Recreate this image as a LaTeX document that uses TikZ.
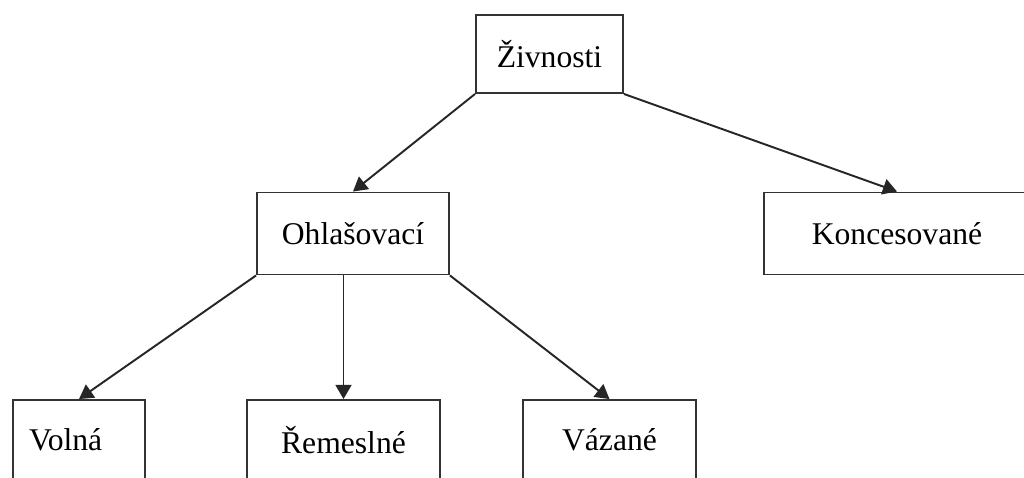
\documentclass[tikz,border=0pt]{standalone}
\usepackage{fontspec}
\setmainfont{Liberation Serif}
\usetikzlibrary{arrows.meta}
\tikzset{
  box/.style={draw=black!80, line width=1.1pt, fill=white, inner sep=0pt,
    font=\fontsize{18}{20}\selectfont},
  link/.style={draw=black!85, line width=1.1pt, -{Triangle[length=8pt,width=9pt]}}
}
\begin{document}
\begin{tikzpicture}[x=0.02cm, y=-0.02cm]
  \useasboundingbox (0,0) rectangle (1024,477);
  \clip (0,0) rectangle (1024,477);
  \fill[white] (0,0) rectangle (1024,477);
  \node[box, minimum width=2.94cm, minimum height=1.56cm] (ziv) at (549.5,54) {Živnosti};
  \node[box, minimum width=3.84cm, minimum height=1.64cm] (ohl) at (353,233.5) {Ohlašovací};
  \node[box, minimum width=5.32cm, minimum height=1.64cm] (kon) at (897,233.5) {Koncesované};
  \node[box, minimum width=2.64cm, minimum height=1.6cm, text width=2cm, align=left,
        inner xsep=0.32cm] (vol) at (79,440) {Volná\\[6pt]};
  \node[box, minimum width=3.86cm, minimum height=1.6cm] (rem) at (343.5,440) {Řemeslné};
  \node[box, minimum width=3.46cm, minimum height=1.6cm] (vaz) at (609.5,440) {Vázané};
  \draw[link] (ziv.south west) -- (ohl.north);
  \draw[link] (ziv.south east) -- (kon.north);
  \draw[link] (ohl.south west) -- (vol.north);
  \draw[link] (rem.north |- ohl.south) -- (rem.north);
  \draw[link] (ohl.south east) -- (vaz.north);
\end{tikzpicture}
\end{document}
